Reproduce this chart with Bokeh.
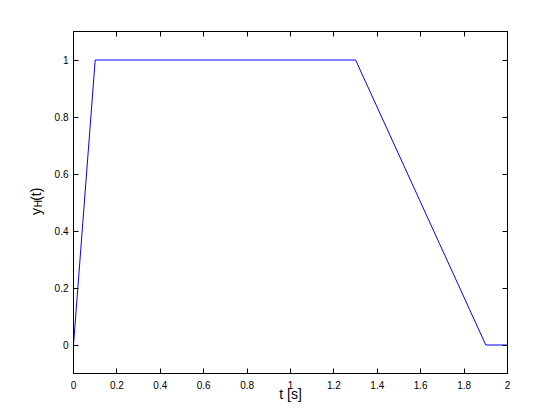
import math
from bokeh.plotting import figure
from bokeh.layouts import row
from bokeh.models import Range1d, FixedTicker, LinearAxis, Label
from bokeh.embed import file_html
from bokeh.resources import INLINE

# Data
t_values = [0.0, 0.1, 1.3, 1.9, 2.0]
y_values = [0.0, 1.0, 1.0, 0.0, 0.0]

x_ticks = [0.0, 0.2, 0.4, 0.6, 0.8, 1.0, 1.2, 1.4, 1.6, 1.8, 2.0]
x_tick_labels = ["0", "0.2", "0.4", "0.6", "0.8", "1", "1.2", "1.4", "1.6", "1.8", "2"]
y_ticks = [0.0, 0.2, 0.4, 0.6, 0.8, 1.0]
y_tick_labels = ["0", "0.2", "0.4", "0.6", "0.8", "1"]

x_label = "t [s]"
y_label_main = "y"
y_label_sub = "H"
y_label_tail = "(t)"

FONT = "Liberation Sans"
LABEL_W = 45
TOTAL_H = 413

p = figure(
    frame_width=434, frame_height=342,
    x_range=Range1d(0, 2), y_range=Range1d(-0.1, 1.1),
    output_backend="svg", toolbar_location=None,
    x_axis_type=None, y_axis_type=None,
    min_border_left=73 - LABEL_W, min_border_top=31, min_border_right=45, min_border_bottom=40,
    background_fill_color="white", border_fill_color="white",
)
p.outline_line_color = "black"


def style_axis(ax, ticks, labels, show):
    ax.ticker = FixedTicker(ticks=ticks)
    ax.major_tick_in = 5
    ax.major_tick_out = 0
    ax.minor_tick_in = 0
    ax.minor_tick_out = 0
    ax.axis_line_color = "black"
    ax.major_tick_line_color = "black"
    ax.major_label_text_font = FONT
    ax.major_label_text_font_size = "10px"
    ax.major_label_text_color = "black"
    if show:
        ax.major_label_overrides = {tk: lb for tk, lb in zip(ticks, labels)}
    else:
        ax.major_label_overrides = {tk: "" for tk in ticks}


xb = LinearAxis()
style_axis(xb, x_ticks, x_tick_labels, True)
xb.major_label_standoff = 7
xb.axis_label = x_label
xb.axis_label_text_font = FONT
xb.axis_label_text_font_size = "14px"
xb.axis_label_text_font_style = "normal"
xb.axis_label_text_color = "black"
xb.axis_label_standoff = -6

yl = LinearAxis()
style_axis(yl, y_ticks, y_tick_labels, True)
yl.major_label_standoff = 5

xt = LinearAxis(); style_axis(xt, x_ticks, x_tick_labels, False)
yr = LinearAxis(); style_axis(yr, y_ticks, y_tick_labels, False)
p.add_layout(xb, "below")
p.add_layout(yl, "left")
p.add_layout(xt, "above")
p.add_layout(yr, "right")

p.line(t_values, y_values, line_color="#0000ff", line_width=1)

# Narrow figure on the left that carries the y-axis label (y with subscript H)
lab = figure(
    width=LABEL_W, height=TOTAL_H,
    x_range=Range1d(0, LABEL_W), y_range=Range1d(0, TOTAL_H),
    output_backend="svg", toolbar_location=None,
    x_axis_type=None, y_axis_type=None, min_border=0,
    background_fill_color="white", border_fill_color="white",
)
lab.outline_line_color = None
lab.xgrid.visible = False
lab.ygrid.visible = False

common = dict(angle=math.pi / 2, text_align="center", text_baseline="alphabetic",
              text_color="black", text_font=FONT)
lab.add_layout(Label(x=35, y=TOTAL_H - 217.5, text=y_label_main, text_font_size="14px", **common))
lab.add_layout(Label(x=38.3, y=TOTAL_H - 208, text=y_label_sub, text_font_size="10px", **common))
lab.add_layout(Label(x=35, y=TOTAL_H - 196.5, text=y_label_tail, text_font_size="14px", **common))

layout = row(lab, p, spacing=0)
open("out.html", "w").write(file_html(layout, INLINE))
